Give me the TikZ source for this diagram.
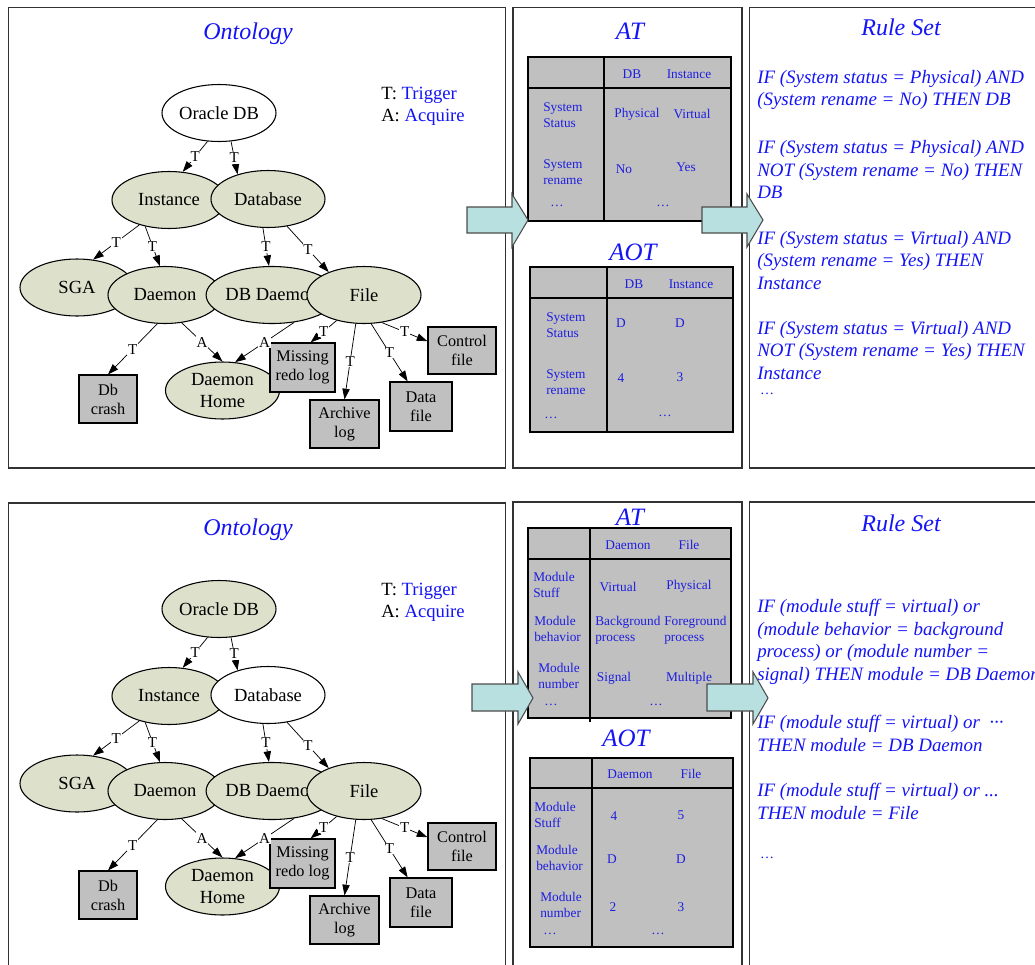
\documentclass[tikz,border=0pt]{standalone}
\usepackage{fontspec}
\setmainfont{Liberation Serif}
\usetikzlibrary{arrows.meta,shapes.geometric}
\definecolor{sage}{RGB}{221,224,203}
\definecolor{boxgray}{RGB}{192,192,192}
\definecolor{arrowcyan}{RGB}{185,224,224}
\definecolor{tblue}{RGB}{30,30,225}
\definecolor{rblue}{RGB}{20,20,245}
\definecolor{panelline}{RGB}{50,50,50}
\tikzset{
  panel/.style={draw=panelline, line width=1pt},
  ell/.style={ellipse, draw, line width=0.8pt, minimum width=85.5pt, minimum height=42.75pt, inner sep=0pt, align=center, font=\fontsize{13.9}{17}\selectfont},
  bx/.style={rectangle, draw, fill=boxgray, line width=0.9pt, inner sep=0pt, align=center, font=\fontsize{12.2}{14.3}\selectfont},
  conn/.style={line width=0.55pt, -{Triangle[length=8pt,width=5.5pt]}},
  lbl/.style={fill=white, inner sep=0.6pt, font=\fontsize{11.3}{13}\selectfont},
  ttl/.style={text=rblue, font=\fontsize{18}{21}\selectfont\itshape},
  ttlb/.style={text=rblue, font=\fontsize{18.75}{21}\selectfont\itshape},
  tbl/.style={fill=boxgray, draw=black, line width=1.1pt},
  tline/.style={draw=black, line width=1.1pt},
  ttxt/.style={text=tblue, inner sep=0pt, align=left, font=\fontsize{10}{12}\selectfont},
  rule/.style={text=rblue, inner sep=0pt, anchor=west, align=left, font=\fontsize{14.2}{17}\selectfont\itshape},
  rdots/.style={text=rblue, inner sep=0pt, font=\fontsize{10.5}{12}\selectfont},
  legend/.style={anchor=west, inner sep=0pt, font=\fontsize{14}{17}\selectfont},
  blockarrow/.style={fill=arrowcyan, draw=black!70, line width=0.8pt},
}
\newcommand\ontologygraph[3]{%
  \node[ell, fill=#2] (#1ora) at (219,113) {Oracle DB};
  \node[ell, fill=sage] (#1inst) at (169,200) {Instance};
  \node[ell, fill=#3] (#1db) at (268,199) {Database};
  \node[ell, fill=sage] (#1sga) at (77,287.5) {SGA};
  \node[ell, fill=sage] (#1dmn) at (165,295) {Daemon};
  \node[ell, fill=sage] (#1dbd) at (272,295) {DB Daemon};
  \node[ell, fill=sage] (#1file) at (364,295) {File};
  \node[ell, fill=sage] (#1home) at (222.5,390.5) {Daemon\\Home};
  \node[bx, minimum width=43.5pt, minimum height=36pt] (#1crash) at (108,399) {Db\\crash};
  \node[bx, minimum width=48.75pt, minimum height=36.75pt] (#1miss) at (302.5,367.5) {Missing\\redo log};
  \node[bx, minimum width=51.75pt, minimum height=36pt] (#1arch) at (344.5,424) {Archive\\log};
  \node[bx, minimum width=46.5pt, minimum height=36.75pt] (#1data) at (421,406.5) {Data\\file};
  \node[bx, minimum width=51pt, minimum height=35.25pt] (#1ctrl) at (462,350.5) {Control\\file};
  \draw[conn] (#1ora.-112) -- node[lbl]{T} (#1inst.64);
  \draw[conn] (#1ora.-67) -- node[lbl]{T} (#1db.141);
  \draw[conn] (#1inst.-140) -- node[lbl]{T} (#1sga.60);
  \draw[conn] (#1inst.-132) -- node[lbl]{T} (#1dmn.100);
  \draw[conn] (#1db.-100) -- node[lbl]{T} (#1dbd.96);
  \draw[conn] (#1db.-55) -- node[lbl]{T} (#1file.147);
  \draw[conn] (#1dmn.-105) -- node[lbl]{T} (#1crash.north);
  \draw[conn] (#1dmn.-59) -- node[lbl]{A} (#1home.north);
  \draw[conn] (#1dbd.-51) -- node[lbl]{A} (#1home.66);
  \draw[conn] (#1file.-137) -- node[lbl]{T} (#1miss.72);
  \draw[conn] (#1file.-106) -- node[lbl]{T} (#1arch.north);
  \draw[conn] (#1file.-76) -- node[lbl]{T} (#1data.118);
  \draw[conn] (#1file.-57) -- node[lbl]{T} (#1ctrl.165);
  \node[legend] (#1legT) at (381,95) {T: \textcolor{rblue}{Trigger}};
  \node[legend] (#1legA) at (381,117) {A: \textcolor{rblue}{Acquire}};
  \node[ttl] (#1onttitle) at (248,34) {Ontology};
}
\begin{document}
\begin{tikzpicture}[x=0.75pt,y=-0.75pt]
\clip (0,0) rectangle (1035,964);
\fill[white] (0,0) rectangle (1035,964);
% panels
\draw[panel] (8.5,7.5) rectangle (505.5,468);
\draw[panel] (513,7.5) rectangle (742,468);
\draw[panel] (749.5,7.5) rectangle (1100,468);
\draw[panel] (8.5,503) rectangle (505.5,1000);
\draw[panel] (513,502) rectangle (742,1000);
\draw[panel] (749.5,502) rectangle (1100,1000);

% ontologies
\ontologygraph{a}{white}{sage}
\begin{scope}[shift={(0,496)}]
\ontologygraph{b}{sage}{white}
\end{scope}

% ---------- top middle ----------
\node[ttlb] (atT) at (630,31) {AT};
\draw[tbl] (528,57) rectangle (731,221);
\draw[tline] (528,88) -- (731,88);
\draw[tline] (604,57) -- (604,221);
\node[ttxt] (a1) at (632,74) {DB};
\node[ttxt] (a2) at (689,74) {Instance};
\node[ttxt, anchor=west] (a3) at (543,115) {System\\Status};
\node[ttxt, anchor=west] (a4) at (543,172) {System\\rename};
\node[ttxt] (a5) at (557,206) {\dots};
\node[ttxt] (a6) at (637,114) {Physical};
\node[ttxt] (a7) at (692,114) {Virtual};
\node[ttxt] (a8) at (624,169) {No};
\node[ttxt] (a9) at (686,167) {Yes};
\node[ttxt] (a10) at (663,206) {\dots};

\node[ttlb] (aotT) at (633,252) {AOT};
\draw[tbl] (530,267) rectangle (733,432);
\draw[tline] (530,298) -- (733,298);
\draw[tline] (607,267) -- (607,432);
\node[ttxt] (o1) at (634,284) {DB};
\node[ttxt] (o2) at (691,284) {Instance};
\node[ttxt, anchor=west] (o3) at (546,325) {System\\Status};
\node[ttxt, anchor=west] (o4) at (546,382) {System\\rename};
\node[ttxt] (o5) at (551,418) {\dots};
\node[ttxt] (o6) at (621,323) {D};
\node[ttxt] (o7) at (680,323) {D};
\node[ttxt] (o8) at (621,378) {4};
\node[ttxt] (o9) at (680,377) {3};
\node[ttxt] (o10) at (665,416) {\dots};

% ---------- top right ----------
\node[ttl] (rsT) at (901,27) {Rule Set};
\node[rule] (r1) at (757,90) {IF (System status = Physical) AND\\(System rename = No) THEN DB};
\node[rule] (r2) at (757,169.5) {IF (System status = Physical) AND\\NOT (System rename = No) THEN\\DB};
\node[rule] (r3) at (757,260.5) {IF (System status = Virtual) AND\\(System rename = Yes) THEN\\Instance};
\node[rule] (r4) at (757,350.5) {IF (System status = Virtual) AND\\NOT (System rename = Yes) THEN\\Instance};
\node[rdots] (r5) at (767,394) {\dots};

% ---------- bottom middle ----------
\node[ttlb] (atB) at (630,517) {AT};
\draw[tbl] (528,528) rectangle (731,718);
\draw[tline] (528,559) -- (731,559);
\draw[tline] (590,528) -- (590,722);
\node[ttxt] (b1) at (628,545) {Daemon};
\node[ttxt] (b2) at (689,545) {File};
\node[ttxt, anchor=west] (b3) at (533,585) {Module\\Stuff};
\node[ttxt, anchor=west] (b4) at (534,629) {Module\\behavior};
\node[ttxt, anchor=west] (b5) at (538,676) {Module\\number};
\node[ttxt] (b6) at (551,705) {\dots};
\node[ttxt] (b7) at (618,587) {Virtual};
\node[ttxt] (b8) at (689,586) {Physical};
\node[ttxt, anchor=west] (b9) at (595,630) {Background\\process};
\node[ttxt, anchor=west] (b10) at (664,630) {Foreground\\process};
\node[ttxt] (b11) at (614,678) {Signal};
\node[ttxt] (b12) at (689,678) {Multiple};
\node[ttxt] (b13) at (656,705) {\dots};

\node[ttlb] (aotB) at (626,738) {AOT};
\draw[tbl] (530,758) rectangle (733,947);
\draw[tline] (530,788) -- (733,788);
\draw[tline] (592,758) -- (592,947);
\node[ttxt] (c1) at (630,774) {Daemon};
\node[ttxt] (c2) at (691,774) {File};
\node[ttxt, anchor=west] (c3) at (534,815) {Module\\Stuff};
\node[ttxt, anchor=west] (c4) at (536,858) {Module\\behavior};
\node[ttxt, anchor=west] (c5) at (540,905) {Module\\number};
\node[ttxt] (c6) at (550,934) {\dots};
\node[ttxt] (c7) at (614,816) {4};
\node[ttxt] (c8) at (681,815) {5};
\node[ttxt] (c9) at (612,859) {D};
\node[ttxt] (c10) at (681,859) {D};
\node[ttxt] (c11) at (613,907) {2};
\node[ttxt] (c12) at (681,907) {3};
\node[ttxt] (c13) at (658,934) {\dots};

% ---------- bottom right ----------
\node[ttl] (rsB) at (901,523) {Rule Set};
\node[rule] (s1) at (757,642) {IF (module stuff = virtual) or\\(module behavior = background\\process) or (module number =\\signal) THEN module = DB Daemon};
\node[rule] (s2) at (757,733.5) {IF (module stuff = virtual) or\ \ ···\\THEN module = DB Daemon};
\node[rule] (s3) at (757,801.5) {IF (module stuff = virtual) or ...\\THEN module = File};
\node[rdots] (s4) at (767,858) {\dots};

% ---------- block arrows ----------
\draw[blockarrow] (467,207) -- (512,207) -- (512,194) -- (528,220) -- (512,247) -- (512,233) -- (467,233) -- cycle;
\draw[blockarrow] (702,207) -- (747,207) -- (747,194) -- (763,220) -- (747,247) -- (747,233) -- (702,233) -- cycle;
\draw[blockarrow] (472,684) -- (518,684) -- (518,672) -- (533,698) -- (518,724) -- (518,711) -- (472,711) -- cycle;
\draw[blockarrow] (707,684) -- (753,684) -- (753,672) -- (768,698) -- (753,724) -- (753,711) -- (707,711) -- cycle;
\end{tikzpicture}
\end{document}
